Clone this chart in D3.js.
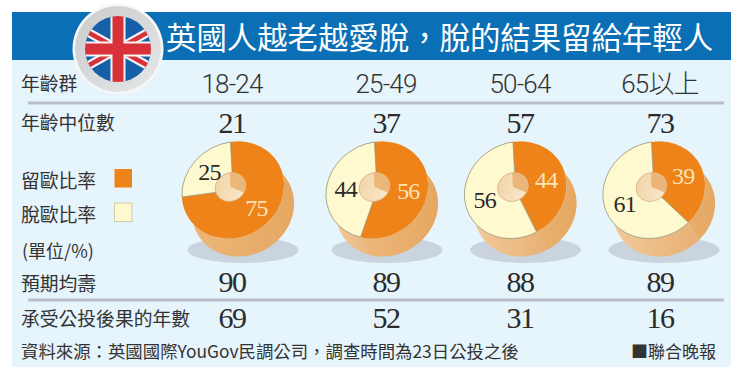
<!DOCTYPE html>
<html>
<head>
<meta charset="utf-8">
<script src="https://cdn.jsdelivr.net/npm/d3@7"></script>
<style>
html,body{margin:0;padding:0;background:#fff;}
svg{display:block;}
.cjk{font-family:"Noto Sans CJK TC","Noto Sans CJK JP",sans-serif;}
.num{font-family:"Liberation Serif",serif;}
</style>
</head>
<body>
<div id="chart"></div>
<script>
// values
var title = "英國人越老越愛脫\uFF0C脫的結果留給年輕人";
var groups = ["18-24", "25-49", "50-64", "65以上"];
var medianAge = [21, 37, 57, 73];
var remain = [75, 56, 44, 39];
var leave = [25, 44, 56, 61];
var lifeExpect = [90, 89, 88, 89];
var yearsLeft = [69, 52, 31, 16];
var rowLabels = ["年齡群", "年齡中位數", "預期均壽", "承受公投後果的年數"];
var legendLabels = ["留歐比率", "脫歐比率"];
var unitLabel = "(單位/%)";
var sourceText = "資料來源\uFF1A英國國際YouGov民調公司\uFF0C調查時間為23日公投之後";
var creditText = "■聯合晚報";

var width = 747, height = 377;
var orange = "#EE8419", cream = "#FEF9CF";
var R = 50, holeR = 15, depth = {x: 10, y: 18};
// tilt of the pie tops, same matrix for arcs, rims and labels
var tilt = {a: 1.02, b: -0.14, c: 0.05, d: 0.96};

var svg = d3.select("#chart").append("svg")
  .attr("width", width).attr("height", height);
var defs = svg.append("defs");

var colX = d3.scaleOrdinal().domain(groups).range([232, 386, 520, 660]);
var pieX = d3.scaleOrdinal().domain(groups).range([233, 377, 515.5, 654]);
var pieY = 190;

// panel and title band
svg.append("rect").attr("x", 12).attr("y", 12).attr("width", 719).attr("height", 355).attr("fill", "#E6F4FC");
svg.append("rect").attr("x", 12).attr("y", 12).attr("width", 719).attr("height", 48).attr("fill", "#0B6FB5");
svg.append("text").attr("class", "cjk").attr("x", 166).attr("y", 49)
  .attr("font-size", 30.4).attr("fill", "#fff").text(title);

[103, 300].forEach(function (y) {
  svg.append("line").attr("x1", 28).attr("x2", 724).attr("y1", y).attr("y2", y)
    .attr("stroke", "#B9BEC6").attr("stroke-width", 3);
});

// flag badge
var flagX = 118, flagY = 49;
var ringGrad = defs.append("linearGradient").attr("id", "ring")
  .attr("x1", 0).attr("y1", 0).attr("x2", 1).attr("y2", 1);
ringGrad.append("stop").attr("offset", 0).attr("stop-color", "#C9CBCD");
ringGrad.append("stop").attr("offset", 1).attr("stop-color", "#E6E7E8");
svg.append("circle").attr("cx", flagX).attr("cy", flagY).attr("r", 45.5).attr("fill", "#F6F7F7");
svg.append("circle").attr("cx", flagX).attr("cy", flagY).attr("r", 43).attr("fill", "url(#ring)");
defs.append("clipPath").attr("id", "flagClip").append("circle")
  .attr("cx", flagX).attr("cy", flagY).attr("r", 33);
var flag = svg.append("g").attr("clip-path", "url(#flagClip)");
flag.append("rect").attr("x", flagX - 34).attr("y", flagY - 34).attr("width", 68).attr("height", 68).attr("fill", "#1560A8");
function flagLine(dx, dy, col, w) {
  flag.append("line").attr("x1", flagX - dx).attr("y1", flagY - dy).attr("x2", flagX + dx).attr("y2", flagY + dy)
    .attr("stroke", col).attr("stroke-width", w);
}
flagLine(36, 20, "#F4F4F4", 9); flagLine(36, -20, "#F4F4F4", 9);
flagLine(36, 20, "#D8313A", 4.5); flagLine(36, -20, "#D8313A", 4.5);
flagLine(0, 36, "#F4F4F4", 15); flagLine(36, 0, "#F4F4F4", 15);
flagLine(0, 36, "#D8313A", 11); flagLine(36, 0, "#D8313A", 11);

// left hand labels
var rowY = [91, 130, 291, 326];
rowLabels.forEach(function (t, i) {
  svg.append("text").attr("class", "cjk").attr("x", 21).attr("y", rowY[i])
    .attr("font-size", 18.8).attr("fill", "#333").text(t);
});
legendLabels.forEach(function (t, i) {
  var y = [188, 222][i];
  svg.append("text").attr("class", "cjk").attr("x", 21).attr("y", y)
    .attr("font-size", 18.8).attr("fill", "#333").text(t);
  svg.append("rect").attr("x", 114.5).attr("y", y - 19).attr("width", 17.5).attr("height", 18.5)
    .attr("fill", i == 0 ? orange : cream).attr("stroke", i == 0 ? "none" : "#CFCBA6");
});
svg.append("text").attr("class", "cjk").attr("x", 22).attr("y", 258)
  .attr("font-size", 18).attr("fill", "#333").text(unitLabel);

// number rows
svg.selectAll(".grp").data(groups).enter().append("text").attr("class", "grp cjk")
  .attr("x", function (d) { return colX(d); }).attr("y", 93)
  .attr("text-anchor", "middle").attr("fill", "#333")
  .style("font-family", 'Roboto,"Noto Sans CJK TC",sans-serif')
  .style("font-weight", 300).style("font-size", "26px").style("letter-spacing", "-0.8px")
  .text(function (d) { return d; });

function numRow(values, y) {
  svg.append("g").selectAll("text").data(values).enter().append("text")
    .attr("class", "num").attr("x", function (d, i) { return colX(groups[i]); }).attr("y", y)
    .attr("text-anchor", "middle").attr("font-size", 30).attr("letter-spacing", -1.5).attr("fill", "#2b2b2b")
    .text(function (d) { return d; });
}
numRow(medianAge, 133);
numRow(lifeExpect, 292);
numRow(yearsLeft, 328);

// pies
var sideDark = defs.append("linearGradient").attr("id", "sideDark")
  .attr("x1", 0).attr("y1", 0).attr("x2", 1).attr("y2", 0);
sideDark.append("stop").attr("offset", 0).attr("stop-color", "#EDB77C");
sideDark.append("stop").attr("offset", 1).attr("stop-color", "#E5A862");
var sideLight = defs.append("linearGradient").attr("id", "sideLight")
  .attr("x1", 0).attr("y1", 0).attr("x2", 1).attr("y2", 0);
sideLight.append("stop").attr("offset", 0).attr("stop-color", "#F3CDA0");
sideLight.append("stop").attr("offset", 1).attr("stop-color", "#E9B074");
var holeGrad = defs.append("linearGradient").attr("id", "holeGrad")
  .attr("x1", 0).attr("y1", 0).attr("x2", 1).attr("y2", 0.4);
holeGrad.append("stop").attr("offset", 0).attr("stop-color", "#F0D3A6");
holeGrad.append("stop").attr("offset", 1).attr("stop-color", "#F8E6C6");

var pie = d3.pie().sort(null).value(function (d) { return d; });
var arc = d3.arc().innerRadius(0).outerRadius(R);
var labelArc = d3.arc().innerRadius(31).outerRadius(31);
var holeArc = d3.arc().innerRadius(0).outerRadius(holeR);
var matrix = "matrix(" + [tilt.a, tilt.b, tilt.c, tilt.d].join(",") + ",0,0)";

function project(dx, dy) {
  return [tilt.a * dx + tilt.c * dy, tilt.b * dx + tilt.d * dy];
}
// outer wall of one slice: rim forward, pushed down copy of the rim backward
function wallPath(s) {
  var angles = d3.range(s.startAngle, s.endAngle, 0.05).concat([s.endAngle]);
  var rim = angles.map(function (t) { return project(R * Math.sin(t), -R * Math.cos(t)); });
  var low = rim.map(function (p) { return [p[0] + depth.x, p[1] + depth.y]; }).reverse();
  return d3.line().curve(d3.curveLinearClosed)(rim.concat(low));
}

groups.forEach(function (g, i) {
  var slices = pie([remain[i], leave[i]]);
  var p = svg.append("g").attr("transform", "translate(" + pieX(g) + "," + pieY + ")");

  p.append("ellipse").attr("cx", 10).attr("cy", 60).attr("rx", 55.5).attr("ry", 13).attr("fill", "#C9D4DE");

  // cream slice wall first so the orange wall sits on top at the seam
  p.append("path").attr("d", wallPath(slices[1])).attr("fill", "url(#sideLight)");
  p.append("path").attr("d", wallPath(slices[0])).attr("fill", "url(#sideDark)");

  var top = p.append("g").attr("transform", matrix);
  top.selectAll("path").data(slices).enter().append("path")
    .attr("d", arc)
    .attr("fill", function (d, j) { return j == 0 ? orange : cream; })
    .attr("stroke", function (d, j) { return j == 0 ? "none" : "#8E8E72"; })
    .attr("stroke-width", 0.7);

  var hole = p.append("g").attr("transform", "translate(-2.5,-3) " + matrix);
  hole.append("circle").attr("r", holeR).attr("fill", "url(#holeGrad)")
    .attr("stroke", "#C9A06C").attr("stroke-width", 0.6);
  hole.append("path").attr("d", holeArc({startAngle: 0, endAngle: 2.1})).attr("fill", "#EAB679");

  p.selectAll("text").data(slices).enter().append("text")
    .attr("class", "num").attr("text-anchor", "middle").attr("dy", "0.34em")
    .style("font-family", '"Liberation Serif",serif')
    .attr("font-size", 24).attr("letter-spacing", -0.8)
    .attr("fill", function (d, j) { return j == 0 ? "#FBE3B8" : "#2b2b2b"; })
    .attr("x", function (d) { var c = labelArc.centroid(d); return project(c[0], c[1])[0]; })
    .attr("y", function (d) { var c = labelArc.centroid(d); return project(c[0], c[1])[1]; })
    .text(function (d) { return d.data; });
});

// footer
svg.append("text").attr("class", "cjk").attr("x", 21).attr("y", 358)
  .attr("font-size", 17.4).attr("fill", "#333").text(sourceText);
svg.append("text").attr("class", "cjk").attr("x", 631).attr("y", 358)
  .attr("font-size", 17).attr("fill", "#333").text(creditText);
</script>
</body>
</html>
